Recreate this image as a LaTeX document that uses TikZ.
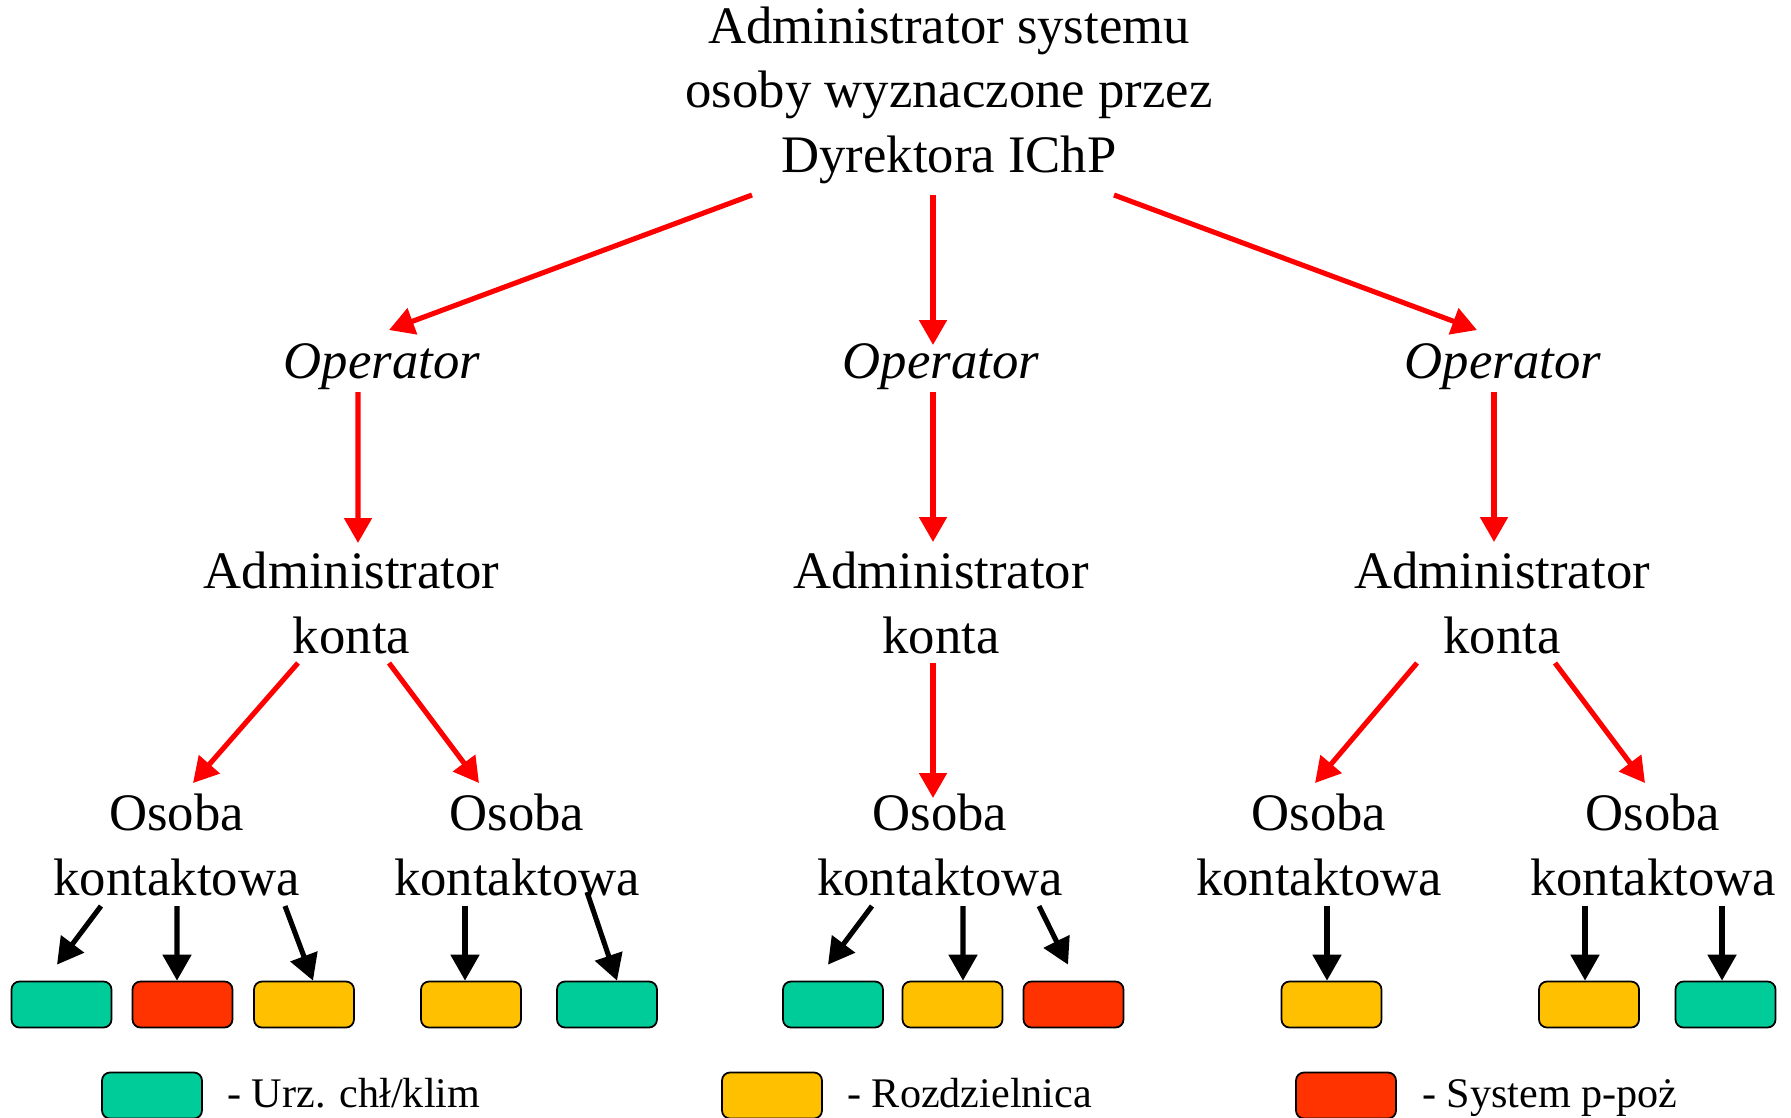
\documentclass[tikz,border=0pt]{standalone}
\usepackage{fontspec}
\setmainfont{Liberation Serif}
\usetikzlibrary{arrows.meta}
\definecolor{klim}{HTML}{00CC99}
\definecolor{rozdz}{HTML}{FFC000}
\definecolor{ppoz}{HTML}{FF3300}
\tikzset{
	lbl/.style={inner sep=0pt, anchor=base, align=center, font=\fontsize{30}{36.6}\selectfont},
	leg/.style={inner sep=0pt, anchor=base west, font=\fontsize{24}{28}\selectfont},
	dev/.style={draw=black, line width=1pt, rounded corners=0.16cm, minimum width=2cm, minimum height=0.92cm, inner sep=0pt},
	redarr/.style={draw=red, line width=2.9pt, -{Triangle[length=0.5cm,width=0.54cm]}},
	blkarr/.style={draw=black, line width=2.9pt, -{Triangle[length=0.52cm,width=0.56cm]}},
}
\begin{document}
\begin{tikzpicture}[x=0.02cm, y=-0.02cm]
		\useasboundingbox (0, 0) rectangle (1791, 1117);

		\node[lbl] (top) at(949, 172){Administrator systemu\\osoby wyznaczone przez\\Dyrektora IChP};

		\node[lbl] (op1) at(382, 378){\textit{Operator}};
		\node[lbl] (op2) at(941, 378){\textit{Operator}};
		\node[lbl] (op3) at(1503, 378){\textit{Operator}};

		\node[lbl] (adm1) at(351.5, 653){Administrator\\konta};
		\node[lbl] (adm2) at(941, 653){Administrator\\konta};
		\node[lbl] (adm3) at(1502, 653){Administrator\\konta};

		\node[lbl] (os1) at(176.5, 895){Osoba\\kontaktowa};
		\node[lbl] (os2) at(517, 895){Osoba\\kontaktowa};
		\node[lbl] (os3) at(940, 895){Osoba\\kontaktowa};
		\node[lbl] (os4) at(1319, 895){Osoba\\kontaktowa};
		\node[lbl] (os5) at(1653, 895){Osoba\\kontaktowa};

		\node[dev, fill=klim] (b11) at(61.5, 1004.5){};
		\node[dev, fill=ppoz] (b12) at(182.5, 1004.5){};
		\node[dev, fill=rozdz] (b13) at(304, 1004.5){};
		\node[dev, fill=rozdz] (b21) at(471, 1004.5){};
		\node[dev, fill=klim] (b22) at(607, 1004.5){};
		\node[dev, fill=klim] (b31) at(833, 1004.5){};
		\node[dev, fill=rozdz] (b32) at(952.5, 1004.5){};
		\node[dev, fill=ppoz] (b33) at(1073.5, 1004.5){};
		\node[dev, fill=rozdz] (b41) at(1331.5, 1004.5){};
		\node[dev, fill=rozdz] (b51) at(1589, 1004.5){};
		\node[dev, fill=klim] (b52) at(1725.5, 1004.5){};

		\draw[redarr] ([shift={(-197, 23)}]top.base) -- ([shift={(7, -48)}]op1.base);
		\draw[redarr] ([shift={(-16, 23)}]top.base) -- ([shift={(-8, -33)}]op2.base);
		\draw[redarr] ([shift={(165, 23)}]top.base) -- ([shift={(-26, -48)}]op3.base);

		\draw[redarr] ([shift={(-24, 14)}]op1.base) -- ([shift={(6.5, -110)}]adm1.base);
		\draw[redarr] ([shift={(-8, 14)}]op2.base) -- ([shift={(-8, -111)}]adm2.base);
		\draw[redarr] ([shift={(-9, 14)}]op3.base) -- ([shift={(-8, -111)}]adm3.base);

		\draw[redarr] ([shift={(-53.5, 10)}]adm1.base) -- ([shift={(16.5, -112)}]os1.base);
		\draw[redarr] ([shift={(37.5, 10)}]adm1.base) -- ([shift={(-38, -112)}]os2.base);
		\draw[redarr] ([shift={(-8, 10)}]adm2.base) -- ([shift={(-7, -97)}]os3.base);
		\draw[redarr] ([shift={(-85, 10)}]adm3.base) -- ([shift={(-4, -112)}]os4.base);
		\draw[redarr] ([shift={(53, 10)}]adm3.base) -- ([shift={(-8, -112)}]os5.base);

		\draw[blkarr] ([shift={(-75.5, 11)}]os1.base) -- ([shift={(-4.5, -16)}]b11.north);
		\draw[blkarr] ([shift={(0.5, 11)}]os1.base) -- ([xshift=-5.5*0.02cm]b12.north);
		\draw[blkarr] ([shift={(108.5, 11)}]os1.base) -- ([xshift=9*0.02cm]b13.north);
		\draw[blkarr] ([shift={(-52, 11)}]os2.base) -- ([xshift=-6*0.02cm]b21.north);
		\draw[blkarr] ([shift={(70, -3)}]os2.base) -- ([xshift=10*0.02cm]b22.north);
		\draw[blkarr] ([shift={(-68, 11)}]os3.base) -- ([shift={(-5, -16)}]b31.north);
		\draw[blkarr] ([shift={(23, 11)}]os3.base) -- ([xshift=10.5*0.02cm]b32.north);
		\draw[blkarr] ([shift={(99, 11)}]os3.base) -- ([shift={(-5.5, -16)}]b33.north);
		\draw[blkarr] ([shift={(8, 11)}]os4.base) -- ([xshift=-4.5*0.02cm]b41.north);
		\draw[blkarr] ([shift={(-68, 11)}]os5.base) -- ([xshift=-4*0.02cm]b51.north);
		\draw[blkarr] ([shift={(69, 11)}]os5.base) -- ([xshift=-3.5*0.02cm]b52.north);

		\node[dev, fill=klim] (lg1) at(152, 1095.5){};
		\node[dev, fill=rozdz] (lg2) at(772, 1095.5){};
		\node[dev, fill=ppoz] (lg3) at(1346, 1095.5){};

		\node[leg] (t1) at(227, 1107){- Urz. chł/klim};
		\node[leg] (t2) at(847, 1107){- Rozdzielnica};
		\node[leg] (t3) at(1422, 1107){- System p-poż};
	\end{tikzpicture}
\end{document}
